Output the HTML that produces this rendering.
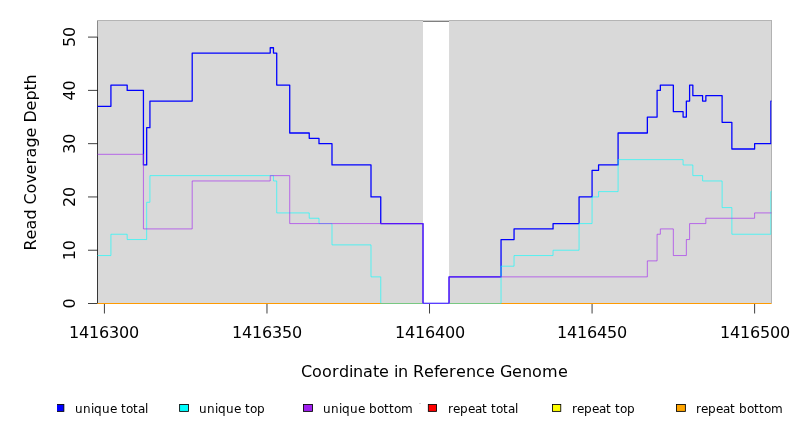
<!DOCTYPE html>
<html lang="en">
<head>
<meta charset="utf-8">
<title>Read Coverage Depth</title>
<style>
html, body { margin: 0; padding: 0; background: #ffffff; }
body { width: 792px; height: 432px; overflow: hidden; }
svg { display: block; }
text { font-family: "DejaVu Sans", "Liberation Sans", sans-serif; fill: #000000; }
.ax { font-size: 16px; }
.lg { font-size: 12px; }
</style>
</head>
<body>
<svg width="792" height="432" viewBox="0 0 792 432">
<defs>
<clipPath id="plot"><rect x="97.50" y="19.50" width="674.00" height="284.50"/></clipPath>
<clipPath id="fig"><rect x="57.1" y="0" width="735" height="432"/></clipPath>
</defs>
<rect x="0" y="0" width="792" height="432" fill="#ffffff"/>

<rect x="423.02" y="21" width="26.01" height="1" fill="#808080"/>
<rect x="97.00" y="21.00" width="326.02" height="282.50" fill="#d9d9d9"/>
<rect x="449.03" y="21.00" width="322.97" height="282.50" fill="#d9d9d9"/>
<line x1="97.00" y1="20.50" x2="772.00" y2="20.50" stroke="#b4b4b4" stroke-width="1"/>
<rect x="423.02" y="20" width="26.01" height="1" fill="#cecece"/>
<line x1="771.50" y1="20.00" x2="771.50" y2="303.50" stroke="#b2b2b2" stroke-width="1"/>
<line x1="97.50" y1="21.00" x2="97.50" y2="37.10" stroke="#8a8a8a" stroke-width="1"/>
<g stroke="#000000" stroke-width="0.75" fill="none">
<path d="M97.50,37.10 L97.50,303.50"/>
<path d="M88.00,303.50 L97.50,303.50"/>
<path d="M88.00,250.22 L97.50,250.22"/>
<path d="M88.00,196.94 L97.50,196.94"/>
<path d="M88.00,143.66 L97.50,143.66"/>
<path d="M88.00,90.38 L97.50,90.38"/>
<path d="M88.00,37.10 L97.50,37.10"/>
<path d="M104.42,303.50 L104.42,313.50"/>
<path d="M266.97,303.50 L266.97,313.50"/>
<path d="M429.52,303.50 L429.52,313.50"/>
<path d="M592.07,303.50 L592.07,313.50"/>
<path d="M754.62,303.50 L754.62,313.50"/>
</g>
<g clip-path="url(#plot)" fill="none" stroke-linejoin="round" stroke-linecap="round">
<path d="M71.91,106.36 L110.92,106.36 L110.92,85.05 L127.18,85.05 L127.18,90.38 L143.43,90.38 L143.43,164.97 L146.68,164.97 L146.68,127.68 L149.93,127.68 L149.93,101.04 L192.20,101.04 L192.20,53.08 L270.22,53.08 L270.22,47.76 L273.47,47.76 L273.47,53.08 L276.72,53.08 L276.72,85.05 L289.73,85.05 L289.73,133.00 L309.23,133.00 L309.23,138.33 L318.99,138.33 L318.99,143.66 L331.99,143.66 L331.99,164.97 L371.00,164.97 L371.00,196.94 L380.75,196.94 L380.75,223.58 L423.02,223.58 L423.02,303.50 L449.03,303.50 L449.03,276.86 L501.04,276.86 L501.04,239.56 L514.05,239.56 L514.05,228.91 L553.06,228.91 L553.06,223.58 L579.07,223.58 L579.07,196.94 L592.07,196.94 L592.07,170.30 L598.57,170.30 L598.57,164.97 L618.08,164.97 L618.08,133.00 L647.34,133.00 L647.34,117.02 L657.09,117.02 L657.09,90.38 L660.34,90.38 L660.34,85.05 L673.34,85.05 L673.34,111.69 L683.10,111.69 L683.10,117.02 L686.35,117.02 L686.35,101.04 L689.60,101.04 L689.60,85.05 L692.85,85.05 L692.85,95.71 L702.60,95.71 L702.60,101.04 L705.85,101.04 L705.85,95.71 L722.11,95.71 L722.11,122.35 L731.86,122.35 L731.86,148.99 L754.62,148.99 L754.62,143.66 L770.87,143.66 L770.87,101.04 L787.13,101.04" stroke="#0000ff" stroke-width="1.28"/>
<path d="M71.91,255.55 L110.92,255.55 L110.92,234.24 L127.18,234.24 L127.18,239.56 L146.68,239.56 L146.68,202.27 L149.93,202.27 L149.93,175.63 L273.47,175.63 L273.47,180.96 L276.72,180.96 L276.72,212.92 L309.23,212.92 L309.23,218.25 L318.99,218.25 L318.99,223.58 L331.99,223.58 L331.99,244.89 L371.00,244.89 L371.00,276.86 L380.75,276.86 L380.75,303.50 L501.04,303.50 L501.04,266.20 L514.05,266.20 L514.05,255.55 L553.06,255.55 L553.06,250.22 L579.07,250.22 L579.07,223.58 L592.07,223.58 L592.07,196.94 L598.57,196.94 L598.57,191.61 L618.08,191.61 L618.08,159.64 L683.10,159.64 L683.10,164.97 L692.85,164.97 L692.85,175.63 L702.60,175.63 L702.60,180.96 L722.11,180.96 L722.11,207.60 L731.86,207.60 L731.86,234.24 L770.87,234.24 L770.87,191.61 L787.13,191.61" stroke="#00ffff" stroke-width="0.62"/>
<path d="M71.91,154.32 L143.43,154.32 L143.43,228.91 L192.20,228.91 L192.20,180.96 L270.22,180.96 L270.22,175.63 L289.73,175.63 L289.73,223.58 L423.02,223.58 L423.02,303.50 L449.03,303.50 L449.03,276.86 L647.34,276.86 L647.34,260.88 L657.09,260.88 L657.09,234.24 L660.34,234.24 L660.34,228.91 L673.34,228.91 L673.34,255.55 L686.35,255.55 L686.35,239.56 L689.60,239.56 L689.60,223.58 L705.85,223.58 L705.85,218.25 L754.62,218.25 L754.62,212.92 L787.13,212.92" stroke="#a020f0" stroke-width="0.62"/>
<path d="M97.50,303.50 L771.50,303.50" stroke="#ff9a00" stroke-width="1"/>
<path d="M380.75,303.50 L501.04,303.50" stroke="#78c882" stroke-width="1"/>
<path d="M423.02,303.50 L449.03,303.50" stroke="#5a3cff" stroke-width="1.2"/>
</g>
<text class="ax" transform="translate(75,303.50) rotate(-90)" x="-5" y="0">0</text>
<text class="ax" transform="translate(75,250.22) rotate(-90)" x="-10 0" y="0">10</text>
<text class="ax" transform="translate(75,196.94) rotate(-90)" x="-10 0" y="0">20</text>
<text class="ax" transform="translate(75,143.66) rotate(-90)" x="-10 0" y="0">30</text>
<text class="ax" transform="translate(75,90.38) rotate(-90)" x="-10 0" y="0">40</text>
<text class="ax" transform="translate(75,37.10) rotate(-90)" x="-10 0" y="0">50</text>
<text class="ax" x="69 79 89 99 109 119 129" y="338">1416300</text>
<text class="ax" x="232 242 252 262 272 282 292" y="338">1416350</text>
<text class="ax" x="395 405 415 425 435 445 455" y="338">1416400</text>
<text class="ax" x="557 567 577 587 597 607 617" y="338">1416450</text>
<text class="ax" x="720 730 740 750 760 770 780" y="338">1416500</text>
<text class="ax" x="301 312 322 332 339 349 353 363 373 379 389 394 398 408 413 424 434 439 449 456 466 476 485 495 500 512 522 532 542 558" y="377">Coordinate in Reference Genome</text>
<text class="ax" transform="translate(36,250.4) rotate(-90)" x="0 11 21 31 41 46 57 67 76 86 93 103 113 123 128 140 150 160 166" y="0">Read Coverage Depth</text>
<g clip-path="url(#fig)">
<rect x="55.02" y="404.53" width="8.85" height="6.85" fill="#0000ff" stroke="#000000" stroke-width="0.85"/>
<text class="lg" x="75 83 91 94 102 110 117 121 126 133 138 145" y="413">unique total</text>
<rect x="179.62" y="404.53" width="8.80" height="6.85" fill="#00ffff" stroke="#000000" stroke-width="0.85"/>
<text class="lg" x="199 207 215 218 226 234 241 245 250 257" y="413">unique top</text>
<rect x="303.53" y="404.53" width="8.95" height="6.85" fill="#a020f0" stroke="#000000" stroke-width="0.85"/>
<text class="lg" x="323 331 339 342 350 358 365 369 377 384 389 394 401" y="413">unique bottom</text>
<rect x="428.32" y="404.53" width="8.25" height="6.85" fill="#ff0000" stroke="#000000" stroke-width="0.85"/>
<text class="lg" x="448 453 460 468 475 482 487 491 496 503 508 515" y="413">repeat total</text>
<rect x="552.47" y="404.53" width="8.30" height="6.85" fill="#ffff00" stroke="#000000" stroke-width="0.85"/>
<text class="lg" x="572 577 584 592 599 606 611 615 620 627" y="413">repeat top</text>
<rect x="676.47" y="404.53" width="8.90" height="6.85" fill="#ffa500" stroke="#000000" stroke-width="0.85"/>
<text class="lg" x="696 701 708 716 723 730 735 739 747 754 759 764 771" y="413">repeat bottom</text>
</g>
<rect x="419" y="403" width="2" height="1" fill="#d6d6d6"/>
</svg>
</body>
</html>
